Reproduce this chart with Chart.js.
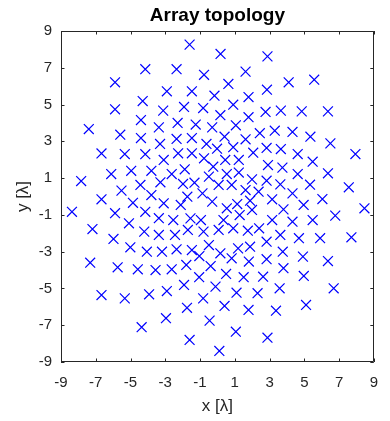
<!DOCTYPE html>
<html>
<head>
<meta charset="utf-8">
<script src="https://cdn.jsdelivr.net/npm/chart.js@4.4.1/dist/chart.umd.min.js"></script>
<style>
  html, body { margin: 0; padding: 0; background: #fff; }
  #wrap { width: 390px; height: 421px; }
</style>
</head>
<body>
<div id="wrap"><canvas id="arrayChart" width="390" height="421"></canvas></div>
<script>
// element positions in wavelengths
let elemX = [
  -4.15, -5.89, -2.91, -4.30, -5.89, -3.12, -4.40, -7.40, -5.59, -3.37, -4.40, -3.30, -6.67, -5.33, -4.15,
  -1.60, 0.18, 2.88, -2.35, -0.77, 1.62, 0.63, -1.47, -0.17, 1.79, 2.85, -1.92, -0.82, 0.91, 0.17, 1.79,
  -2.29, -1.25, -0.30, 1.06, 2.44, -2.35, -1.47, -0.63, 0.41, 1.62, 0.91, -0.02, 2.83,
  5.57, 4.10, 2.77, 3.65, 4.85, 6.36, 3.30, 4.32, 5.35, 6.50, 3.65,
  7.94, 4.62, 5.48, 2.91, 3.74, 6.36, 4.62, 2.83, 3.62, 5.33, 7.56, 4.32, 6.04, 3.15, 4.96, 3.80, 8.46,
  6.78, 3.15, 4.32, 5.48, 3.62, 4.69, 5.91, 7.71, 2.83, 3.76, 4.92, 6.36, 2.83, 3.80,
  4.97, 3.58, 6.69, 5.10, 3.37, 2.88,
  -6.67, -5.33, -3.93, -2.91, -4.36, -2.96,
  -1.05, 0.50, 1.51, 2.63, -1.92, -0.11, 1.10, 2.31, -0.82, -1.75, 0.41, 1.79, -0.45, 1.06, -1.60, 0.11,
  -7.84, -6.11, -4.96, -3.80, -3.28, -5.52, -4.43, -3.80, -6.67, -4.86, -8.37, -5.89, -4.15, -3.37,
  -5.09, -7.19, -4.21, -3.37, -5.98, -5.01, -4.06, -7.32, -5.74, -4.58, -3.56,
  -3.09, -3.09, -3.19,
  -2.26, -1.47, -0.77, -0.24, 0.45, 1.23, 2.06, -2.63, -1.88, 0.54, 1.23, 1.99, -1.98, -1.32, -0.49,
  0.07, 0.82, 1.62, 2.37, -1.73, -0.86, -0.30, -2.11, 0.54, 1.14, 1.88, -2.54, -1.55, -0.95, 0.35,
  1.28, 1.99, -2.44, -1.70, -0.80, 0.07, 0.91, 1.75, 2.40, -2.35, -1.47, -0.49, 0.17, 1.19, 1.88,
  -1.04, 0.82, 1.81, -2.63, -1.79, -0.39
];
let elemY = [
  6.92, 6.21, 5.72, 5.19, 4.74, 4.67, 4.16, 3.67, 3.36, 3.76, 3.18, 2.86, 2.34, 2.31, 2.30,
  8.26, 7.75, 7.62, 6.92, 6.62, 6.79, 6.12, 5.72, 5.48, 5.41, 5.81, 4.87, 4.81, 4.99, 4.42, 4.31,
  4.00, 3.91, 3.76, 3.87, 3.44, 3.13, 3.18, 2.86, 3.25, 3.11, 2.68, 2.60, 2.64,
  6.35, 6.21, 4.60, 4.67, 4.63, 4.63, 3.58, 3.51, 3.25, 2.89, 2.58,
  2.31, 2.31, 1.89, 1.71, 1.57, 1.26, 1.22, 0.86, 0.66, 0.64, 0.50, 0.17, -0.14, -0.15, -0.46, -0.70, -0.64,
  -1.04, -1.28, -1.37, -1.28, -2.09, -2.27, -2.27, -2.22, -2.46, -3.00, -3.27, -3.51, -3.41, -3.90,
  -4.32, -4.99, -4.99, -5.90, -6.21, -7.68,
  -5.36, -5.54, -5.32, -5.14, -7.11, -6.62,
  -4.39, -4.21, -4.39, -4.36, -4.81, -4.90, -5.23, -5.26, -5.54, -6.05, -5.95, -6.17, -6.75, -7.35, -7.80, -8.40,
  0.84, 1.22, 1.40, 1.40, 0.77, 0.32, 0.63, 0.08, -0.15, -0.34, -0.83, -0.91, -0.83, -1.18,
  -1.46, -1.77, -1.91, -2.09, -2.31, -2.76, -3.00, -3.60, -3.85, -3.96, -4.00,
  1.99, -0.37, -3.00,
  2.35, 2.35, 2.08, 1.62, 1.99, 1.99, 2.38, 1.22, 1.48, 1.22, 1.30, 0.93, 0.68, 0.75, 1.08,
  0.63, 0.63, 0.35, 0.26, -0.01, 0.17, -0.28, -0.46, -0.64, -0.41, -0.23, -1.28, -1.19, -1.28, -1.28,
  -1.01, -0.73, -2.09, -1.82, -1.91, -1.82, -1.73, -1.86, -1.73, -2.87, -2.91, -2.64, -3.09, -2.82, -2.73,
  -3.24, -3.36, -3.54, -3.96, -3.72, -3.78
];
let xTicks = [-9, -7, -5, -3, -1, 1, 3, 5, 7, 9];
let yTicks = [-9, -7, -5, -3, -1, 1, 3, 5, 7, 9];

let axisColor = '#262626';
let fontFamily = '"Liberation Sans", Arial, Helvetica, sans-serif';

// closed box round the axes with short inward ticks on all four sides
let boxTicks = {
    id: 'boxTicks',
    afterDatasetsDraw(chart) {
        let ctx = chart.ctx;
        let a = chart.chartArea;
        let xs = chart.scales.x;
        let ys = chart.scales.y;
        let len = 3.5;
        ctx.save();
        ctx.strokeStyle = axisColor;
        ctx.lineWidth = 1;
        ctx.beginPath();
        ctx.rect(Math.round(a.left) + 0.5, Math.round(a.top) + 0.5,
                 Math.round(a.right - a.left) - 1, Math.round(a.bottom - a.top) - 1);
        xs.ticks.forEach(function (t) {
            let px = Math.round(xs.getPixelForValue(t.value)) + 0.5;
            ctx.moveTo(px, a.bottom);
            ctx.lineTo(px, a.bottom - len);
            ctx.moveTo(px, a.top);
            ctx.lineTo(px, a.top + len);
        });
        ys.ticks.forEach(function (t) {
            let py = Math.round(ys.getPixelForValue(t.value)) + 0.5;
            ctx.moveTo(a.left, py);
            ctx.lineTo(a.left + len, py);
            ctx.moveTo(a.right, py);
            ctx.lineTo(a.right - len, py);
        });
        ctx.stroke();
        ctx.restore();
    }
};

let points = elemX.map(function (v, i) { return { x: v, y: elemY[i] }; });

let ctx = document.getElementById('arrayChart').getContext('2d');
let chart = new Chart(ctx, {
    type: 'scatter',
    data: {
        datasets: [{
            label: 'Elements',
            data: points,
            pointStyle: 'crossRot',
            pointRadius: 7,
            pointHoverRadius: 7,
            borderColor: '#0000ff',
            backgroundColor: '#0000ff',
            pointBorderWidth: 1.2
        }]
    },
    plugins: [boxTicks],
    options: {
        responsive: false,
        animation: false,
        devicePixelRatio: 1,
        layout: { padding: { left: 0, right: 7, top: 0, bottom: 0 } },
        plugins: {
            legend: { display: false },
            tooltip: { enabled: false },
            title: {
                display: true,
                fullSize: false,
                text: 'Array topology',
                color: '#000',
                font: { family: fontFamily, size: 19, weight: 'bold', lineHeight: 1.2 },
                padding: { top: 4.5, bottom: 3.7 }
            }
        },
        scales: {
            x: {
                type: 'linear',
                min: -9,
                max: 9,
                afterBuildTicks: function (scale) {
                    scale.ticks = xTicks.map(function (v) { return { value: v }; });
                },
                afterFit: function (scale) { scale.height = 59; },
                grid: { display: false, drawTicks: false },
                border: { display: false },
                ticks: {
                    autoSkip: false,
                    maxRotation: 0,
                    padding: 12,
                    color: axisColor,
                    font: { family: fontFamily, size: 15 }
                },
                title: {
                    display: true,
                    text: 'x [λ]',
                    color: axisColor,
                    font: { family: fontFamily, size: 17 },
                    padding: { top: 4, bottom: 4 }
                }
            },
            y: {
                type: 'linear',
                min: -9,
                max: 9,
                afterBuildTicks: function (scale) {
                    scale.ticks = yTicks.map(function (v) { return { value: v }; });
                },
                afterFit: function (scale) { scale.width = 61; },
                grid: { display: false, drawTicks: false },
                border: { display: false },
                ticks: {
                    autoSkip: false,
                    padding: 9,
                    color: axisColor,
                    font: { family: fontFamily, size: 15 }
                },
                title: {
                    display: true,
                    text: 'y [λ]',
                    color: axisColor,
                    font: { family: fontFamily, size: 17 },
                    padding: { top: 13, bottom: 13 }
                }
            }
        }
    }
});
</script>
</body>
</html>
